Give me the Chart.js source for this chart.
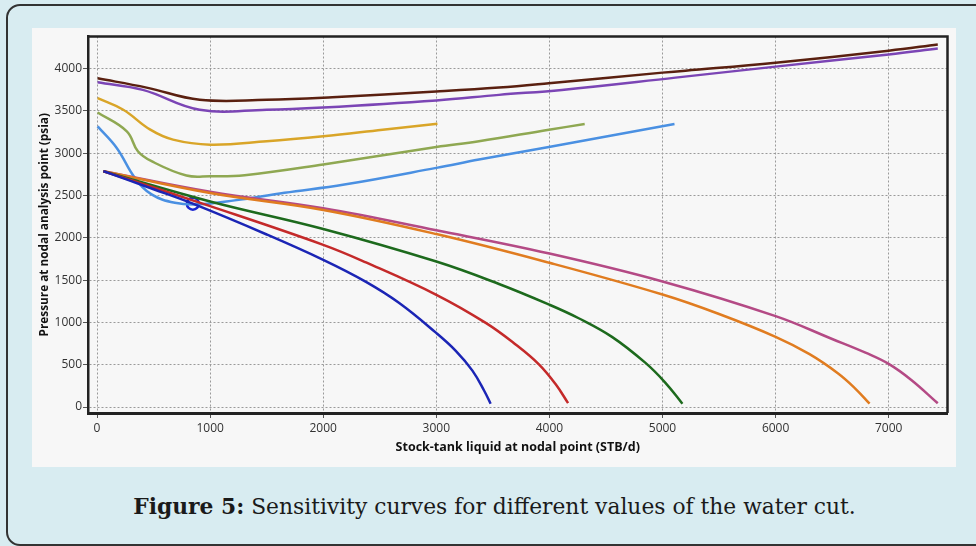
<!DOCTYPE html>
<html>
<head>
<meta charset="utf-8">
<script src="https://cdn.jsdelivr.net/npm/chart.js@4"></script>
<style>
html, body { margin: 0; padding: 0; width: 976px; height: 546px; overflow: hidden; background: #d8ecf1; }
#card { position: absolute; left: 6px; top: 4px; width: 1000px; height: 542px; box-sizing: border-box; border: 2px solid #333; border-radius: 14px; }
#plot { position: absolute; left: 32px; top: 28px; width: 924px; height: 439px; background: #f7f7f7; }
#caption { position: absolute; left: 0; top: 494px; width: 989px; text-align: center; font-family: "DejaVu Serif", serif; font-size: 21.8px; color: #1a1a1a; white-space: nowrap; }
</style>
</head>
<body>
<div id="card"></div>
<div id="plot"><canvas id="chart" width="924" height="439"></canvas></div>
<div id="caption"><b>Figure 5:</b> Sensitivity curves for different values of the water cut.</div>
<script>
// tubing curves (VLP), liquid rate in STB/d and pressure in psia
const qBrown = [5, 438, 908, 1500, 2081, 2998, 3554, 3995, 5000, 5203, 6000, 7000, 7434]
const pBrown = [3886, 3776, 3632, 3632, 3662, 3729, 3776, 3827, 3953, 3976, 4071, 4212, 4286]
const qPurple = [5, 405, 908, 1500, 2000, 3000, 3554, 4110, 5115, 6000, 7000, 7434]
const pPurple = [3839, 3749, 3514, 3514, 3541, 3624, 3690, 3749, 3894, 4024, 4168, 4239]
const qGold = [5, 232, 467, 672, 1000, 1500, 2000, 2526, 3010]
const pGold = [3651, 3514, 3282, 3161, 3102, 3141, 3200, 3278, 3349]
const qOlive = [5, 263, 361, 482, 790, 1000, 1305, 2000, 3000, 3377, 3995, 4312]
const pOlive = [3482, 3259, 3024, 2906, 2737, 2729, 2741, 2867, 3074, 3141, 3278, 3345]
const qSky = [5, 174, 335, 482, 688, 891, 1217, 1658, 2187, 3000, 3377, 3995, 5106]
const pSky = [3318, 3063, 2709, 2514, 2415, 2396, 2443, 2533, 2631, 2827, 2925, 3074, 3345]

// inflow curves (IPR)
const qBlue = [56, 500, 847, 1500, 2000, 2378, 2672, 2996, 3172, 3319, 3422, 3480]
const pBlue = [2788, 2575, 2404, 2040, 1740, 1480, 1230, 880, 665, 431, 196, 40]
const qRed = [56, 1000, 2000, 2378, 2996, 3437, 3701, 3907, 4054, 4165]
const pRed = [2788, 2375, 1918, 1710, 1330, 995, 740, 505, 272, 47]
const qGreen = [56, 1000, 2000, 3000, 3554, 4000, 4259, 4553, 4847, 5024, 5176]
const pGreen = [2788, 2430, 2105, 1720, 1455, 1210, 1050, 830, 525, 290, 40]
const qOrange = [56, 1000, 2000, 3000, 4000, 5000, 5500, 6000, 6300, 6550, 6700, 6831]
const pOrange = [2788, 2530, 2330, 2045, 1705, 1330, 1100, 830, 625, 400, 225, 40]
const qPink = [56, 1000, 2000, 3000, 4000, 5000, 6000, 6500, 6800, 7000, 7200, 7434]
const pPink = [2788, 2545, 2350, 2090, 1815, 1485, 1075, 805, 640, 510, 320, 45]

// operating point
const qOp = [847]
const pOp = [2404]

const xTicks = [0, 1000, 2000, 3000, 4000, 5000, 6000, 7000]
const yTicks = [0, 500, 1000, 1500, 2000, 2500, 3000, 3500, 4000]

function pts(q, p) {
    return q.map((x, i) => ({ x: x, y: p[i] }))
}

function curve(q, p, color) {
    return {
        data: pts(q, p),
        borderColor: color,
        borderWidth: 2.5,
        pointRadius: 0,
        tension: 0.4,
        fill: false
    }
}

const tickFont = { family: "Open Sans", size: 12 }
const titleFont = { family: "Open Sans", size: 12.5, weight: "bold" }

const frame = {
    id: "frame",
    afterDraw(chart) {
        const { ctx, chartArea: a } = chart
        ctx.save()
        ctx.strokeStyle = "#222"
        ctx.lineWidth = 2.5
        ctx.beginPath()
        ctx.moveTo(a.left, a.top)
        ctx.lineTo(a.right, a.top)
        ctx.lineTo(a.right, a.bottom)
        ctx.stroke()
        ctx.restore()
    }
}

new Chart(document.querySelector("#chart"), {
    type: "line",
    data: {
        datasets: [
            curve(qBlue, pBlue, "#1b25b5"),
            curve(qRed, pRed, "#c42a2a"),
            curve(qGreen, pGreen, "#1d6a1d"),
            curve(qOrange, pOrange, "#e07c20"),
            curve(qPink, pPink, "#b44a85"),
            curve(qBrown, pBrown, "#5a2010"),
            curve(qPurple, pPurple, "#7b45b5"),
            curve(qGold, pGold, "#d9a528"),
            curve(qOlive, pOlive, "#8fa852"),
            curve(qSky, pSky, "#4a90e2"),
            {
                data: pts(qOp, pOp),
                showLine: false,
                pointRadius: 6,
                pointBorderWidth: 2.5,
                pointBorderColor: "#1b25d0",
                pointBackgroundColor: "rgba(0,0,0,0)"
            }
        ]
    },
    options: {
        responsive: false,
        devicePixelRatio: 1,
        animation: false,
        layout: { padding: { top: 7, right: 6, left: 0, bottom: 0 } },
        plugins: { legend: { display: false }, tooltip: { enabled: false } },
        scales: {
            x: {
                type: "linear",
                min: -80,
                max: 7520,
                afterFit: (s) => { s.height = 54 },
                afterBuildTicks: (s) => { s.ticks = xTicks.map((v) => ({ value: v })) },
                ticks: { font: tickFont, color: "#333", padding: 3, maxRotation: 0, callback: (v) => String(v) },
                grid: { color: "#9a9a9a", tickColor: "#555", tickLength: 5, tickBorderDash: [] },
                border: { color: "#222", width: 3, dash: [2, 2] },
                title: { display: true, text: "Stock-tank liquid at nodal point (STB/d)", font: titleFont, color: "#111", padding: { top: 0, bottom: 12 } }
            },
            y: {
                type: "linear",
                min: -70,
                max: 4380,
                afterFit: (s) => { s.width = 56 },
                afterBuildTicks: (s) => { s.ticks = yTicks.map((v) => ({ value: v })) },
                ticks: { font: tickFont, color: "#333", padding: 1, callback: (v) => String(v) },
                grid: { color: "#9a9a9a", tickColor: "#555", tickLength: 5, tickBorderDash: [] },
                border: { color: "#222", width: 2.5, dash: [2, 2] },
                title: { display: true, text: "Pressure at nodal analysis point (psia)", font: { family: "Open Sans", size: 11.8, weight: "bold" }, color: "#111", padding: { top: 6, bottom: 0 } }
            }
        }
    },
    plugins: [frame]
})
</script>
</body>
</html>
